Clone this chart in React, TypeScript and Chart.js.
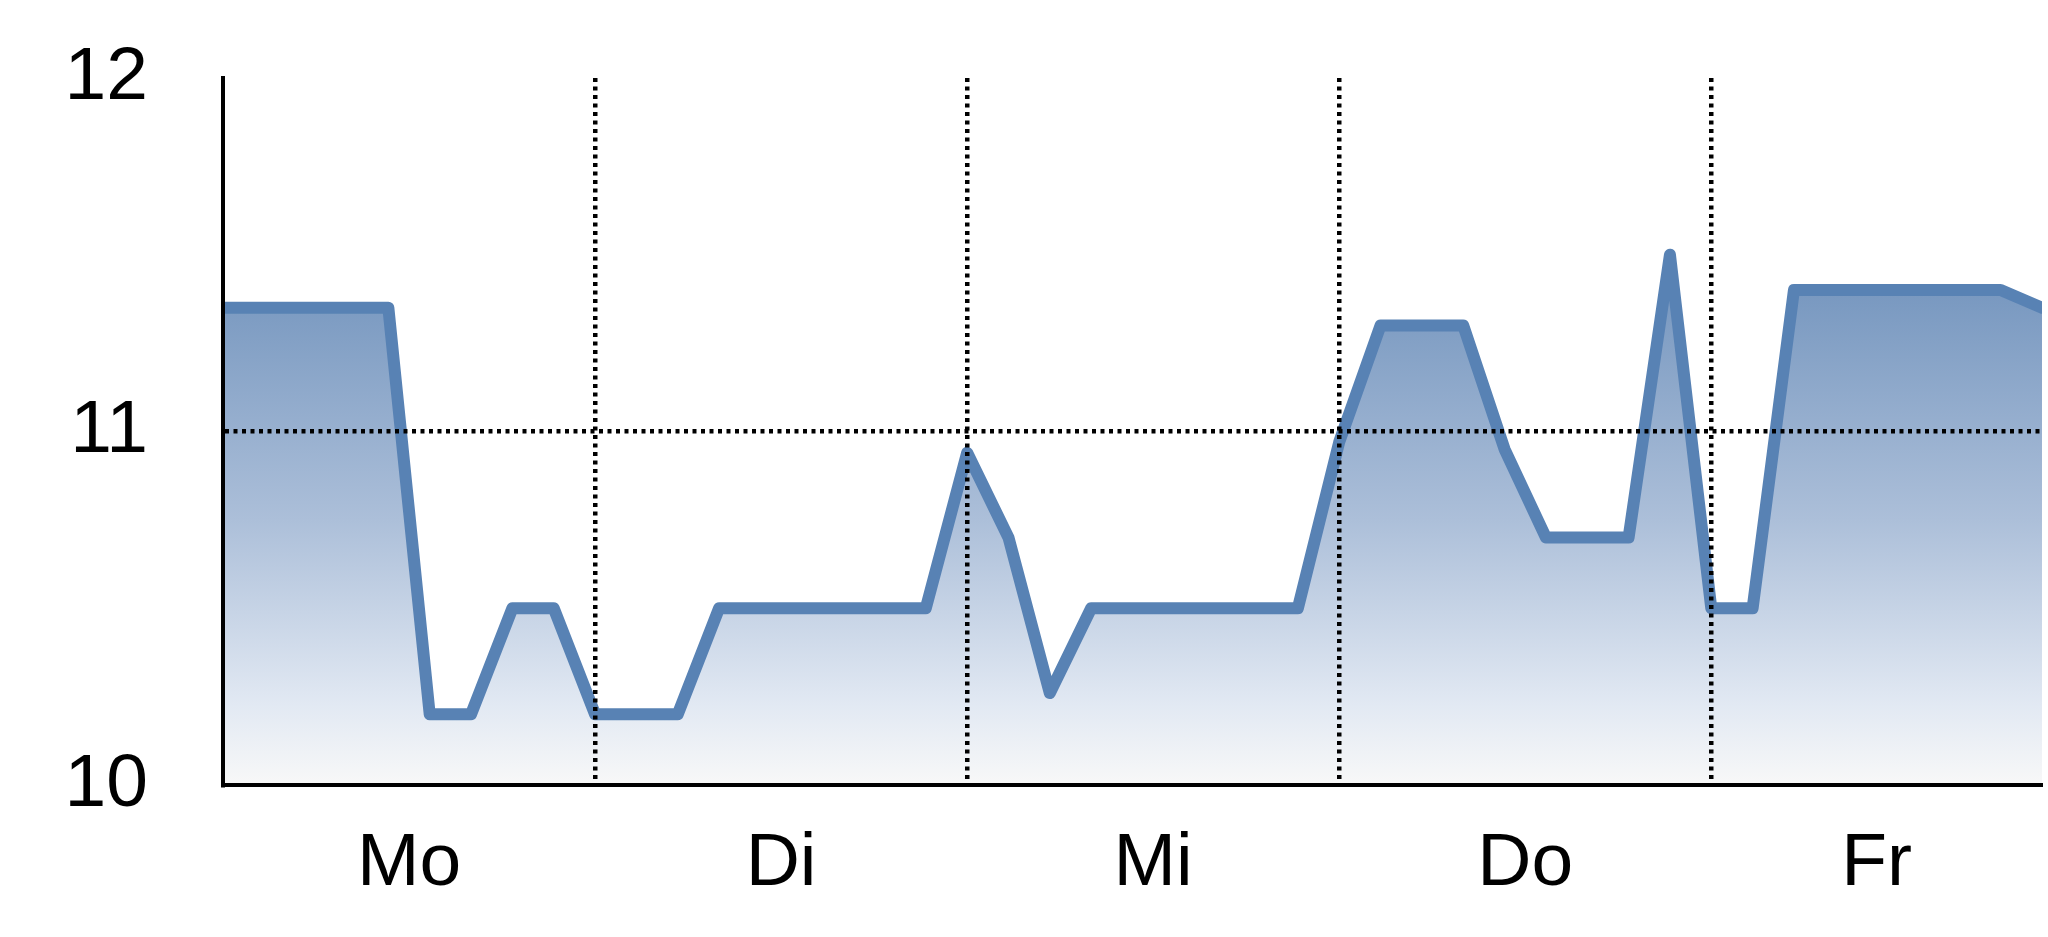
import React, { useEffect, useRef } from 'react';
import { Chart, registerables } from 'chart.js';

Chart.register(...registerables);

// day labels sit in the middle of each day block; Fr is cut off at the right edge
const dayLabels = ['Mo', 'Di', 'Mi', 'Do', 'Fr'];
const dayCenters = [4.5, 13.5, 22.5, 31.5, 40];
const dayBoundaries = [9, 18, 27, 36];

// one reading per step, 9 steps per day
const readings = [
  11.35, 11.35, 11.35, 11.35, 11.35, 10.2, 10.2, 10.5, 10.5, 10.2,
  10.2, 10.2, 10.5, 10.5, 10.5, 10.5, 10.5, 10.5, 10.94, 10.7,
  10.26, 10.5, 10.5, 10.5, 10.5, 10.5, 10.5, 10.97, 11.3, 11.3,
  11.3, 10.95, 10.7, 10.7, 10.7, 11.5, 10.5, 10.5, 11.4, 11.4,
  11.4, 11.4, 11.4, 11.4, 11.35,
];

const yTicks = [10, 11, 12];

const FONT = '"Liberation Sans", Arial, Helvetica, sans-serif';

export default function App() {
  const chartRef = useRef<HTMLCanvasElement | null>(null);
  const chartInstanceRef = useRef<Chart | null>(null);

  useEffect(() => {
    document.body.style.margin = '0';
    if (!chartRef.current) return;

    if (chartInstanceRef.current) {
      chartInstanceRef.current.destroy();
    }

    const ctx = chartRef.current.getContext('2d');
    if (!ctx) return;

    chartInstanceRef.current = new Chart(ctx, {
      type: 'line',
      data: {
        datasets: [
          {
            data: readings.map((v, i) => ({ x: i, y: v })),
            borderColor: '#5882b4',
            borderWidth: 12,
            borderJoinStyle: 'round',
            borderCapStyle: 'round',
            pointRadius: 0,
            tension: 0,
            fill: 'start',
            backgroundColor: (context: any) => {
              const { chart } = context;
              const { chartArea, scales } = chart;
              if (!chartArea) return 'rgba(120,152,190,0.6)';
              const g = chart.ctx.createLinearGradient(
                0,
                scales.y.getPixelForValue(11.5),
                0,
                chartArea.bottom
              );
              g.addColorStop(0, 'rgb(112,146,188)');
              g.addColorStop(0.5, 'rgb(172,191,217)');
              g.addColorStop(0.85, 'rgb(226,233,243)');
              g.addColorStop(1, 'rgb(248,248,248)');
              return g;
            },
          },
        ],
      },
      options: {
        animation: false,
        responsive: true,
        maintainAspectRatio: false,
        layout: { padding: { top: 78, right: 6, left: 0, bottom: 0 } },
        plugins: {
          legend: { display: false },
          tooltip: { enabled: false },
        },
        scales: {
          x: {
            type: 'linear',
            min: 0,
            max: readings.length - 1,
            afterBuildTicks: (scale: any) => {
              scale.ticks = dayCenters.map((v) => ({ value: v }));
            },
            afterFit: (scale: any) => {
              scale.height = 152;
              scale.paddingLeft = 0;
              scale.paddingRight = 0;
            },
            ticks: {
              autoSkip: false,
              maxRotation: 0,
              padding: 34,
              color: '#000',
              font: { family: FONT, size: 75 },
              callback: (value: any) => {
                const idx = dayCenters.indexOf(Number(value));
                return idx >= 0 ? dayLabels[idx] : '';
              },
            },
            grid: { display: false, drawTicks: false },
            border: { display: true, color: '#000', width: 4, z: 1 },
          },
          x2: {
            type: 'linear',
            position: 'top',
            min: 0,
            max: readings.length - 1,
            afterBuildTicks: (scale: any) => {
              scale.ticks = dayBoundaries.map((v) => ({ value: v }));
            },
            afterFit: (scale: any) => {
              scale.height = 0;
              scale.paddingLeft = 0;
              scale.paddingRight = 0;
            },
            ticks: { display: false },
            grid: {
              display: true,
              drawTicks: false,
              color: '#000',
              lineWidth: 4.5,
              z: 1,
            },
            border: { display: false, dash: [4, 4.5] },
          },
          y: {
            min: 10,
            max: 12,
            afterBuildTicks: (scale: any) => {
              scale.ticks = yTicks.map((v) => ({ value: v }));
            },
            afterFit: (scale: any) => {
              scale.width = 223;
              scale.paddingTop = 0;
              scale.paddingBottom = 0;
            },
            ticks: {
              padding: 75,
              color: '#000',
              font: { family: FONT, size: 75 },
            },
            grid: {
              drawTicks: false,
              lineWidth: 4.5,
              z: 1,
              color: (c: any) => (c.tick && c.tick.value === 11 ? '#000' : 'rgba(0,0,0,0)'),
            },
            border: { display: true, color: '#000', width: 4, dash: [4, 4.5], z: 1 },
          },
        },
      },
    });

    return () => {
      if (chartInstanceRef.current) {
        chartInstanceRef.current.destroy();
        chartInstanceRef.current = null;
      }
    };
  }, []);

  return (
    <div style={{ width: 2048, height: 937, position: 'relative', background: '#fff' }}>
      <canvas ref={chartRef} />
    </div>
  );
}
